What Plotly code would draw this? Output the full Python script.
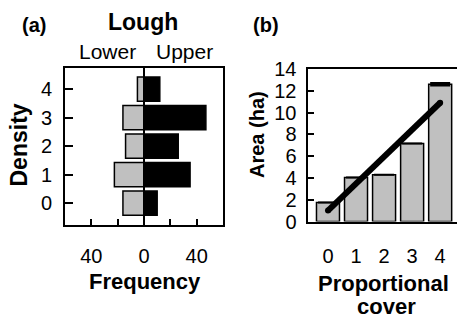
import plotly.graph_objects as go

W, H = 457, 319

# Panel (a): Lough density vs frequency
density = [0, 1, 2, 3, 4]
lower_freq = [16, 22.5, 14, 16, 5]
upper_freq = [10, 35, 26, 47, 12]

# Panel (b): area vs proportional cover
cover = [0, 1, 2, 3, 4]
area = [1.75, 4.05, 4.3, 7.15, 12.6]
area_err = [0, 0, 0, 0, 0.12]
fit_x = [0, 4]
fit_y = [1.0, 10.9]

FONT = "Liberation Sans, Arial, sans-serif"

def px(x):
    return x / W

def py(y):
    return 1 - y / H

fig = go.Figure()

fig.add_trace(go.Bar(
    y=density, x=[-v for v in lower_freq], orientation="h",
    marker=dict(color="#c0c0c0", line=dict(color="black", width=1.5)),
    width=0.85, xaxis="x", yaxis="y", showlegend=False))
fig.add_trace(go.Bar(
    y=density, x=upper_freq, orientation="h",
    marker=dict(color="black", line=dict(color="black", width=1.5)),
    width=0.85, xaxis="x", yaxis="y", showlegend=False))

fig.add_trace(go.Bar(
    x=cover, y=area,
    marker=dict(color="#c0c0c0", line=dict(color="black", width=1.5)),
    error_y=dict(type="data", array=area_err, color="black", thickness=2, width=10),
    width=0.82, xaxis="x2", yaxis="y2", showlegend=False))
fig.add_trace(go.Scatter(
    x=fit_x, y=fit_y, mode="lines+markers",
    line=dict(color="black", width=6),
    marker=dict(color="black", size=6),
    xaxis="x2", yaxis="y2", showlegend=False))

axis_common = dict(showgrid=False, zeroline=False, showline=True, linecolor="black",
                   linewidth=2, ticks="inside", tickcolor="black", tickwidth=1.5,
                   automargin=False,
                   tickfont=dict(family=FONT, size=20, color="black"), fixedrange=True)

fig.update_layout(
    template="none",
    width=W, height=H, margin=dict(l=0, r=0, t=0, b=0, pad=0),
    paper_bgcolor="white", plot_bgcolor="white", barmode="overlay",
    xaxis=dict(domain=[px(65), px(223)], range=[-60, 60], anchor="y", mirror=True,
               tickvals=[-40, -20, 0, 20, 40], ticktext=["40", "", "0", "", "40"],
               ticklen=6, ticklabelstandoff=12, **axis_common),
    yaxis=dict(domain=[py(225), py(68)], range=[-0.77, 4.74], anchor="x", mirror=True,
               tickvals=density, ticklen=8, ticklabelstandoff=7, **axis_common),
    xaxis2=dict(domain=[px(307.5), 1.0], range=[-0.73, 4.6], anchor="y2", mirror=True,
                tickvals=cover, ticklen=0, ticklabelstandoff=15, **axis_common),
    yaxis2=dict(domain=[py(221.5), py(69)], range=[0, 14], anchor="x2", mirror=False,
                tickvals=[0, 2, 4, 6, 8, 10, 12, 14], ticklen=6, ticklabelstandoff=5,
                **axis_common),
)

fig.add_shape(type="line", xref="x", yref="y domain", x0=0, x1=0, y0=0, y1=1,
              line=dict(color="black", width=2), layer="above")

def ann(text, x, y, size, bold=False, angle=0):
    t = f"<b>{text}</b>" if bold else text
    fig.add_annotation(text=t, x=px(x), y=py(y), xref="paper", yref="paper",
                       xanchor="center", yanchor="middle", showarrow=False,
                       textangle=angle, font=dict(family=FONT, size=size, color="black"))

ann("(a)", 33.5, 25, 20, bold=True)
ann("Lough", 143, 22, 23, bold=True)
ann("Lower", 107.5, 52, 21)
ann("Upper", 184.5, 52, 21)
ann("Density", 18.5, 145, 23, bold=True, angle=-90)
ann("Frequency", 145, 281, 22, bold=True)
ann("(b)", 266, 25, 20, bold=True)
ann("Area (ha)", 257, 135, 20, bold=True, angle=-90)
ann("Proportional", 383, 283, 22, bold=True)
ann("cover", 386, 306, 22, bold=True)

fig.write_html("out.html", config={"displayModeBar": False},
               post_script="document.body.style.margin='0';document.body.style.overflow='hidden';")
